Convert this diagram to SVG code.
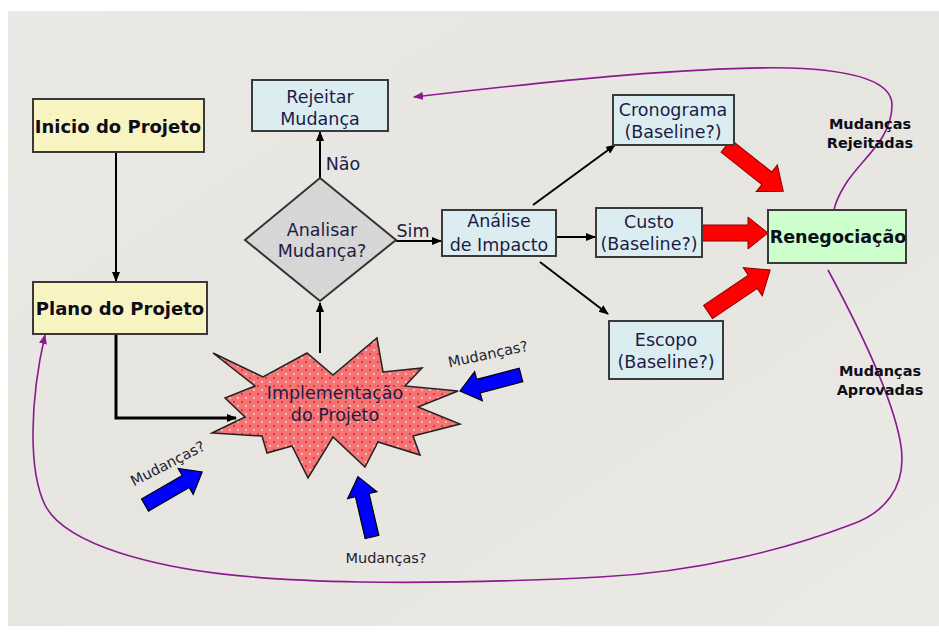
<svg xmlns="http://www.w3.org/2000/svg" width="939" height="632" viewBox="0 0 939 632">
<defs>
<style>
.box{stroke:#3a3a3a;stroke-width:2}
.blue{fill:#dcedf2}
.yel{fill:url(#ydots)}
.t{font-family:"DejaVu Sans","Verdana",sans-serif;font-size:17.5px;fill:#1c1c44;text-anchor:middle}
.b{font-family:"DejaVu Sans","Verdana",sans-serif;font-weight:bold;fill:#0d0d1a;text-anchor:middle}
.s{font-family:"DejaVu Sans","Verdana",sans-serif;font-size:14.5px;fill:#1c1c30;text-anchor:middle}
.c{fill:none;stroke:#000;stroke-width:2}
.p{fill:none;stroke:#8a1a8e;stroke-width:1.6}
.red{fill:#ff0000;stroke:#8a0000;stroke-width:1}
.bl{fill:#0000ff;stroke:#000;stroke-width:1.2}
</style>
<linearGradient id="bg" x1="0" y1="0" x2="1" y2="1">
<stop offset="0" stop-color="#ebe9e5"/>
<stop offset="0.5" stop-color="#e7e5e0"/>
<stop offset="1" stop-color="#eceae6"/>
</linearGradient>
<pattern id="ydots" width="8" height="8" patternUnits="userSpaceOnUse">
<rect width="8" height="8" fill="#f8f5c2"/>
<circle cx="2" cy="2" r="0.7" fill="#e8e2a0"/>
</pattern>
<pattern id="gdots" width="8" height="8" patternUnits="userSpaceOnUse">
<rect width="8" height="8" fill="#d6d6d6"/>
<circle cx="2" cy="2" r="0.7" fill="#eeeeee"/>
</pattern>
<pattern id="rdots" width="8" height="8" patternUnits="userSpaceOnUse">
<rect width="8" height="8" fill="#f37474"/>
<circle cx="2" cy="2" r="0.9" fill="#ff1010"/>
<circle cx="6" cy="6" r="0.9" fill="#fbe0e0"/>
</pattern>
<marker id="ah" markerWidth="10" markerHeight="10" refX="9" refY="5" orient="auto" markerUnits="userSpaceOnUse">
<path d="M0,1 L10,5 L0,9 Z" fill="#000"/>
</marker>
<marker id="ph" markerWidth="10" markerHeight="10" refX="9" refY="5" orient="auto" markerUnits="userSpaceOnUse">
<path d="M0,1 L10,5 L0,9 Z" fill="#8a1a8e"/>
</marker>
</defs>

<rect x="0" y="0" width="939" height="632" fill="#ffffff"/>
<rect x="8" y="11" width="931" height="615" fill="url(#bg)"/>

<g id="connectors">
<line class="c" x1="116" y1="152" x2="116" y2="281" marker-end="url(#ah)"/>
<polyline class="c" style="stroke-width:3" points="116,334 116,418 236,418" marker-end="url(#ah)"/>
<line class="c" x1="320" y1="353" x2="320" y2="303" marker-end="url(#ah)"/>
<line class="c" x1="320" y1="179" x2="320" y2="132" marker-end="url(#ah)"/>
<line class="c" x1="396" y1="241" x2="441" y2="241" marker-end="url(#ah)"/>
<line class="c" x1="556" y1="237" x2="595" y2="237" marker-end="url(#ah)"/>
<line class="c" x1="533" y1="205" x2="615" y2="145" marker-end="url(#ah)"/>
<line class="c" x1="540" y1="262" x2="608" y2="314" marker-end="url(#ah)"/>
<path class="p" d="M 834,210 C 836,200 840,193 845,185 C 860,160 892,140 892,105 C 892,80 850,70 790,68 C 700,66 560,80 414,97" marker-end="url(#ph)"/>
<path class="p" d="M 828,270 C 855,320 890,390 900,440 C 910,490 880,515 850,525 C 790,548 700,572 600,577 C 500,582 420,583 360,582 C 250,580 180,572 120,553 C 80,540 55,525 45,505 C 28,470 30,400 45,335" marker-end="url(#ph)"/>
<g id="red-arrows">
<polygon class="red" transform="translate(702,233)" points="0,-8 46,-8 46,-16 66,0 46,16 46,8 0,8"/>
<polygon class="red" transform="translate(726,146) rotate(38.3)" points="0,-8 52,-8 52,-17 73,0 52,17 52,8 0,8"/>
<polygon class="red" transform="translate(708,312) rotate(-34)" points="0,-8 54,-8 54,-17 75,0 54,17 54,8 0,8"/>
</g>
<g id="blue-arrows">
<polygon class="bl" transform="translate(521,375) rotate(165.3)" points="0,-7 44,-7 44,-15 63,0 44,15 44,7 0,7"/>
<polygon class="bl" transform="translate(145,505) rotate(-30)" points="0,-7 47,-7 47,-15 66,0 47,15 47,7 0,7"/>
<polygon class="bl" transform="translate(372,537) rotate(-103.1)" points="0,-7 43,-7 43,-15 62,0 43,15 43,7 0,7"/>
</g>
</g>

<g id="inicio">
<rect class="box yel" x="33" y="99" width="171" height="53"/>
<text class="b" x="118" y="133" font-size="18">Inicio do Projeto</text>
</g>
<g id="plano">
<rect class="box yel" x="33" y="282" width="174" height="52"/>
<text class="b" x="120" y="315" font-size="18">Plano do Projeto</text>
</g>
<g id="rejeitar">
<rect class="box blue" x="252" y="80" width="136" height="51"/>
<text class="t" x="320" y="103">Rejeitar</text>
<text class="t" x="320" y="125">Mudança</text>
</g>
<g id="analisar">
<polygon points="320,178 396,240 320,301 245,240" fill="url(#gdots)" stroke="#333" stroke-width="2"/>
<text class="t" x="322" y="236">Analisar</text>
<text class="t" x="322" y="257">Mudança?</text>
</g>
<g id="labels">
<text class="t" x="343" y="170">Não</text>
<text class="t" x="413" y="237">Sim</text>
</g>
<g id="analise">
<rect class="box blue" x="442" y="210" width="114" height="46"/>
<text class="t" x="499" y="227">Análise</text>
<text class="t" x="499" y="251">de Impacto</text>
</g>
<g id="cronograma">
<rect class="box blue" x="613" y="95" width="121" height="50"/>
<text class="t" x="673" y="116">Cronograma</text>
<text class="t" x="673" y="138">(Baseline?)</text>
</g>
<g id="custo">
<rect class="box blue" x="596" y="208" width="106" height="49"/>
<text class="t" x="649" y="228">Custo</text>
<text class="t" x="649" y="250">(Baseline?)</text>
</g>
<g id="escopo">
<rect class="box blue" x="609" y="321" width="114" height="58"/>
<text class="t" x="666" y="346">Escopo</text>
<text class="t" x="666" y="368">(Baseline?)</text>
</g>
<g id="renegociacao">
<rect class="box" x="768" y="210" width="138" height="53" fill="#ccffcc"/>
<text class="b" x="838" y="243" font-size="17.5">Renegociação</text>
</g>
<g id="implementacao">
<polygon points="213,353 263,377 307,353 333,375 377,338 383,372 422,368 405,386 458,391 418,407 460,424 413,436 420,455 378,442 365,467 333,437 308,478 292,446 267,453 262,436 212,433 245,417 225,398 255,386" fill="url(#rdots)" stroke="#222" stroke-width="1.5" stroke-linejoin="miter"/>
<text class="t" x="335" y="399">Implementação</text>
<text class="t" x="335" y="421">do Projeto</text>
</g>
<g id="notes">
<text class="b" x="870" y="129" font-size="14.5">Mudanças</text>
<text class="b" x="870" y="148" font-size="14.5">Rejeitadas</text>
<text class="b" x="880" y="376" font-size="14.5">Mudanças</text>
<text class="b" x="880" y="395" font-size="14.5">Aprovadas</text>
<text class="s" transform="translate(489,359) rotate(-12)">Mudanças?</text>
<text class="s" transform="translate(170,468) rotate(-27)">Mudanças?</text>
<text class="s" x="386" y="563">Mudanças?</text>
</g>
</svg>
